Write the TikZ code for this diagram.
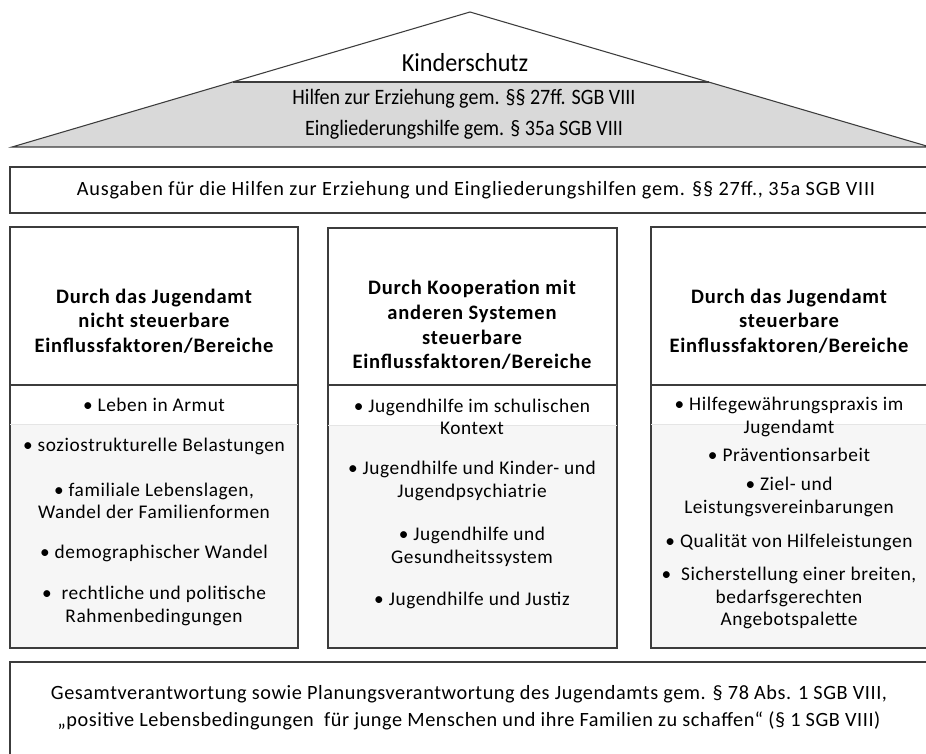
\documentclass[tikz,border=0pt]{standalone}
\usepackage{fontspec}
\setmainfont{Carlito}
\usepackage[HTML]{xcolor}
\usepackage{graphicx}
\usepackage{tikz}
\definecolor{roofgray}{HTML}{D9D9D9}
\definecolor{linegray}{HTML}{3C3C3C}
\definecolor{bandgray}{HTML}{F6F6F6}

\begin{document}
\begin{tikzpicture}[x=0.75pt, y=-0.75pt,
  frame/.style={draw=linegray, line width=1.2pt},
  head/.style={align=center, font=\fontsize{15.4}{18.5}\selectfont\bfseries\addfontfeature{LetterSpace=4}},
  item/.style={align=center, font=\fontsize{14.5}{17}\selectfont\addfontfeature{LetterSpace=3}},
  wide/.style={align=center, font=\fontsize{15.2}{20}\selectfont\addfontfeature{LetterSpace=4}}]
\clip (0,0) rectangle (926,754);
\fill[white] (0,0) rectangle (926,754);

% Roof: white top, grey band below
\fill[roofgray] (12,147) -- (232.5,82) -- (708.5,82) -- (930,147) -- cycle;
\draw[linegray, line width=0.8pt] (12,147) -- (470,12) -- (930,147) -- cycle;
\draw[linegray, line width=0.8pt] (232.5,82) -- (708.5,82);
\node (roof) at (465,63) {\fontsize{19.5}{20}\selectfont\scalebox{0.93}[1]{Kinderschutz}};
\node[font=\fontsize{16.5}{20}\selectfont] (roofband1) at (464,99) {\scalebox{0.91}[1]{Hilfen zur Erziehung gem. §§ 27ff. SGB VIII}};
\node[font=\fontsize{16.5}{20}\selectfont] (roofband2) at (464,130) {\scalebox{0.91}[1]{Eingliederungshilfe gem. § 35a SGB VIII}};

% Beam: Ausgaben
\draw[frame] (10,167) rectangle (945,213);
\node[wide] (ausgaben) at (476,190) {Ausgaben für die Hilfen zur Erziehung und Eingliederungshilfen gem. §§ 27ff., 35a SGB VIII};

% Left column
\fill[bandgray] (10,424) rectangle (298,648);
\draw[frame] (10,227) rectangle (298,648);
\draw[frame] (10,385) -- (298,385);
\draw[gray!20] (10,424) -- (298,424);
\node[head] (lefthead) at (154,321) {Durch das Jugendamt\\nicht steuerbare\\Einflussfaktoren/Bereiche};
\node[item] (left1) at (154,405) {\textbullet{} Leben in Armut};
\node[item] (left2) at (154,446) {\textbullet{} soziostrukturelle Belastungen};
\node[item] (left3) at (154,501) {\textbullet{} familiale Lebenslagen,\\Wandel der Familienformen};
\node[item] (left4) at (154,553) {\textbullet{} demographischer Wandel};
\node[item] (left5) at (154,606) {\textbullet{} \ rechtliche und politische\\Rahmenbedingungen};

% Middle column
\fill[bandgray] (328,425) rectangle (617,648);
\draw[frame] (328,228) rectangle (617,648);
\draw[frame] (328,385) -- (617,385);
\draw[gray!20] (328,425) -- (617,425);
\node[head] (midhead) at (472,325) {Durch Kooperation mit\\anderen Systemen\\steuerbare\\Einflussfaktoren/Bereiche};
\node[item] (mid1) at (472,417) {\textbullet{} Jugendhilfe im schulischen\\Kontext};
\node[item] (mid2) at (472,481) {\textbullet{} Jugendhilfe und Kinder- und\\Jugendpsychiatrie};
\node[item] (mid3) at (472,547) {\textbullet{} Jugendhilfe und\\Gesundheitssystem};
\node[item] (mid4) at (472,600) {\textbullet{} Jugendhilfe und Justiz};

% Right column
\fill[bandgray] (651,424) rectangle (940,648);
\draw[frame] (651,227) rectangle (940,648);
\draw[frame] (651,385) -- (940,385);
\draw[gray!20] (651,424) -- (940,424);
\node[head] (righthead) at (789,321) {Durch das Jugendamt\\steuerbare\\Einflussfaktoren/Bereiche};
\node[item] (right1) at (789,417) {\textbullet{} Hilfegewährungspraxis im\\Jugendamt};
\node[item] (right2) at (789,455) {\textbullet{} Präventionsarbeit};
\node[item] (right3) at (789,497) {\textbullet{} Ziel- und\\Leistungsvereinbarungen};
\node[item] (right4) at (789,542) {\textbullet{} Qualität von Hilfeleistungen};
\node[item] (right5) at (789,598) {\textbullet{} \ Sicherstellung einer breiten,\\bedarfsgerechten\\Angebotspalette};

% Foundation
\draw[frame] (10,662) rectangle (945,780);
\node[wide, font=\fontsize{15.2}{20}\selectfont\addfontfeature{LetterSpace=2.8}] (basis) at (469,708) {Gesamtverantwortung sowie Planungsverantwortung des Jugendamts gem. § 78 Abs. 1 SGB VIII,\\„positive Lebensbedingungen \ für junge Menschen und ihre Familien zu schaffen“ (§ 1 SGB VIII)};
\end{tikzpicture}
\end{document}
